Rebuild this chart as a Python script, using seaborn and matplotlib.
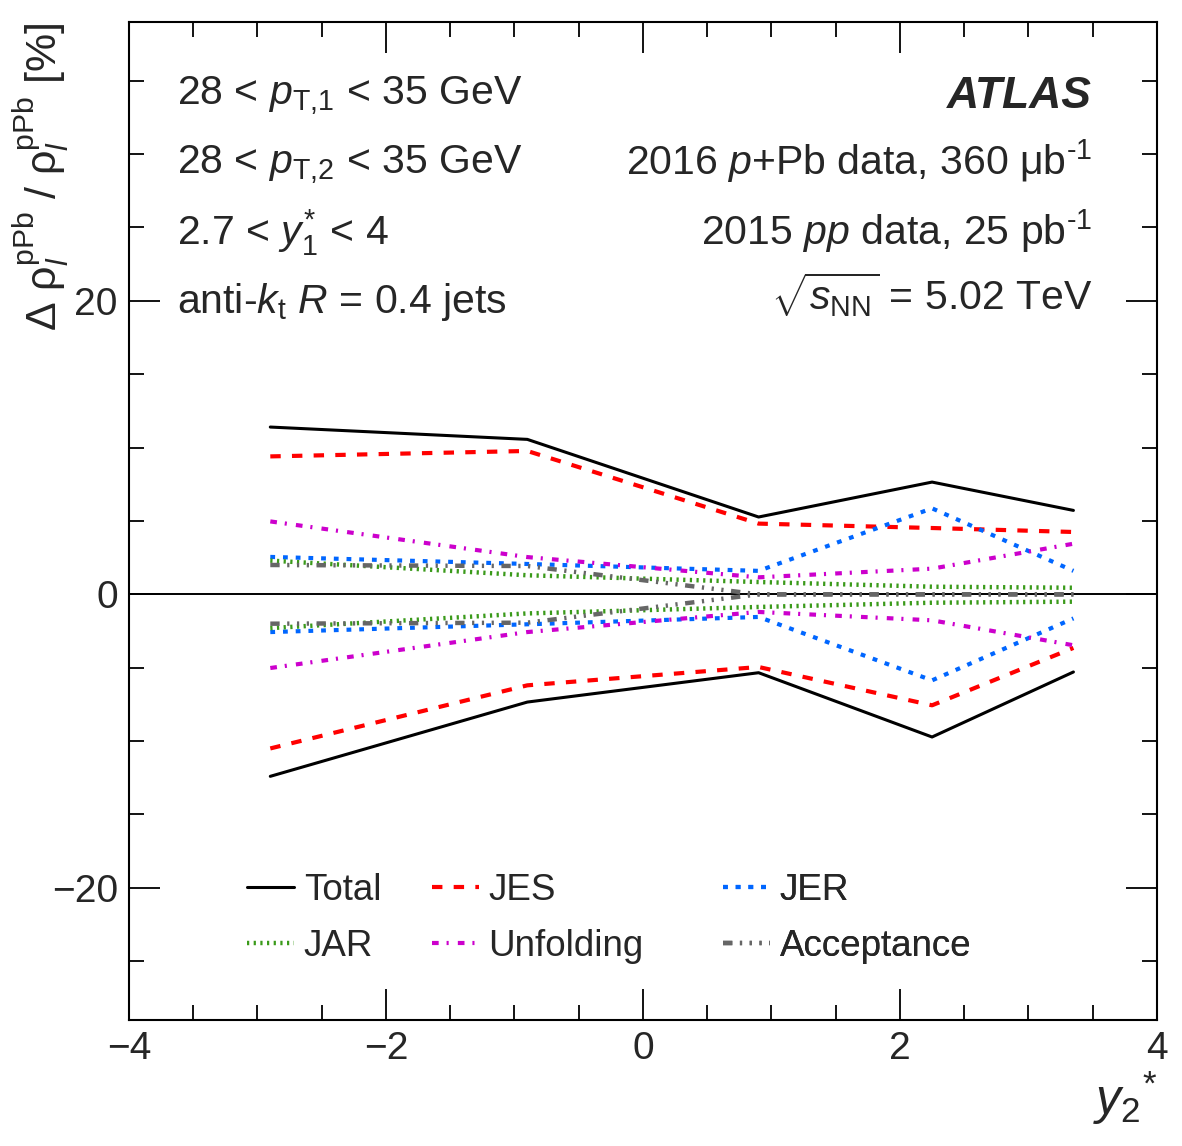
import numpy as np
import pandas as pd
import seaborn as sns
import matplotlib as mpl
import matplotlib.pyplot as plt
from matplotlib.ticker import MultipleLocator

# ---------------- data ----------------
y2_star = [-2.9, -0.9, 0.9, 2.25, 3.35]

total_up = [11.4, 10.56, 5.27, 7.65, 5.72]
total_dn = [-12.4, -7.34, -5.34, -9.72, -5.29]
jes_up = [9.4, 9.77, 4.82, 4.52, 4.25]
jes_dn = [-10.5, -6.2, -4.95, -7.56, -3.65]
jer_up = [2.55, 2.07, 1.6, 5.86, 1.6]
jer_dn = [-2.57, -2.04, -1.54, -5.86, -1.64]
jar_up = [2.3, 1.3, 0.84, 0.52, 0.45]
jar_dn = [-2.3, -1.3, -0.86, -0.57, -0.5]
unf_up = [4.97, 2.54, 1.16, 1.75, 3.45]
unf_dn = [-5.02, -2.57, -1.2, -1.77, -3.47]
acc_up = [2.0, 1.93, 0.0, 0.0, 0.0]
acc_dn = [-2.0, -1.93, 0.0, 0.0, 0.0]

series_names = ["Total", "JES", "JER", "JAR", "Unfolding", "Acceptance"]
series_up = [total_up, jes_up, jer_up, jar_up, unf_up, acc_up]
series_dn = [total_dn, jes_dn, jer_dn, jar_dn, unf_dn, acc_dn]

# ---------------- styles ----------------
colors = {"Total": "#000000", "JES": "#FF0000", "JER": "#0066FF",
          "JAR": "#3A9A1A", "Unfolding": "#CC00CC", "Acceptance": "#666666"}
widths = {"Total": 2.2, "JES": 3.0, "JER": 3.0, "JAR": 3.2,
          "Unfolding": 3.0, "Acceptance": 3.2}
styles = {"Total": "-",
          "JES": (0, (2.5, 2.7)),
          "JER": (0, (1.15, 1.9)),
          "JAR": (0, (0.5, 1.0)),
          "Unfolding": (0, (1.6, 1.9, 0.5, 2.2)),
          "Acceptance": (0, (2.1, 1.7, 0.5, 1.7, 0.5, 1.7, 0.5, 1.7))}

sns.set_theme(style="ticks")
plt.rcParams["font.family"] = ["Liberation Sans", "DejaVu Sans"]
plt.rcParams["mathtext.fontset"] = "custom"
plt.rcParams["mathtext.rm"] = "Liberation Sans"
plt.rcParams["mathtext.it"] = "Liberation Sans:italic"
plt.rcParams["mathtext.bf"] = "Liberation Sans:bold"
plt.rcParams["axes.unicode_minus"] = True

fig = plt.figure(figsize=(11.82, 11.46), dpi=100)
ax = fig.add_axes([0.1091, 0.110, 0.8697, 0.8708])

rows = []
for name, up, dn in zip(series_names, series_up, series_dn):
    for side, vals in (("up", up), ("down", dn)):
        for xv, yv in zip(y2_star, vals):
            rows.append({"y2": xv, "val": yv, "series": name, "side": side})
df = pd.DataFrame(rows)

ax.axhline(0, color="black", lw=1.4, zorder=1)

handles = {}
for name in series_names:
    for side in ("up", "down"):
        sub = df[(df.series == name) & (df.side == side)]
        sns.lineplot(data=sub, x="y2", y="val", ax=ax, color=colors[name],
                     linestyle=styles[name], linewidth=widths[name],
                     estimator=None, sort=False, zorder=3,
                     label=name if side == "up" else None, legend=False)
    handles[name] = ax.get_lines()[-2]

ax.set_xlim(-4, 4)
ax.set_ylim(-29, 39)
ax.xaxis.set_major_locator(MultipleLocator(2))
ax.xaxis.set_minor_locator(MultipleLocator(0.5))
ax.yaxis.set_major_locator(MultipleLocator(20))
ax.yaxis.set_minor_locator(MultipleLocator(5))
ax.tick_params(which="both", direction="in", top=True, right=True,
               width=1.3, labelsize=28, color="black")
ax.tick_params(which="major", length=22)
ax.tick_params(which="minor", length=11)
ax.tick_params(axis="x", pad=8)
ax.tick_params(axis="y", pad=8)
for s in ax.spines.values():
    s.set_linewidth(1.5)
    s.set_color("black")

ax.set_xlabel(r"$y_{2}{}^{*}$", fontsize=36, loc="right", labelpad=2)
ax.set_ylabel(r"Δ ρ$^{\mathrm{pPb}}_{l}$ / ρ$^{\mathrm{pPb}}_{l}$ [%]",
              fontsize=31, loc="top")
ax.yaxis.set_label_coords(-0.056, 1.0)

# annotations (left)
tfs = 29.5
left_x = 0.047
ax.text(left_x, 0.916, r"28 < $p_{\mathrm{T{,}1}}$ < 35 GeV", transform=ax.transAxes,
        fontsize=tfs, va="baseline", ha="left")
ax.text(left_x, 0.847, r"28 < $p_{\mathrm{T{,}2}}$ < 35 GeV", transform=ax.transAxes,
        fontsize=tfs, va="baseline", ha="left")
ax.text(left_x, 0.777, r"2.7 < $y_{1}^{*}$ < 4", transform=ax.transAxes,
        fontsize=tfs, va="baseline", ha="left")
ax.text(left_x, 0.708, r"anti-$k_{\mathrm{t}}$ $R$ = 0.4 jets", transform=ax.transAxes,
        fontsize=tfs, va="baseline", ha="left")

# annotations (right)
right_x = 0.937
ax.text(right_x, 0.914, "ATLAS", transform=ax.transAxes, fontsize=32,
        fontweight="bold", fontstyle="italic", va="baseline", ha="right")
ax.text(right_x, 0.847, r"2016 $p$+Pb data, 360 μb$^{\text{-1}}$", transform=ax.transAxes,
        fontsize=tfs, va="baseline", ha="right")
ax.text(right_x, 0.777, r"2015 $pp$ data, 25 pb$^{\text{-1}}$", transform=ax.transAxes,
        fontsize=tfs, va="baseline", ha="right")
ax.text(right_x, 0.711, r"$\sqrt{s_{\mathrm{NN}}}$ = 5.02 TeV", transform=ax.transAxes,
        fontsize=tfs, va="baseline", ha="right")

# legend: three columns
cols = [["Total", "JAR"], ["JES", "Unfolding"], ["JER", "Acceptance"]]
col_x = [0.1148, 0.2947, 0.5778]
for names, cx in zip(cols, col_x):
    leg = ax.legend([handles[n] for n in names], names, loc="center left",
                    bbox_to_anchor=(cx, 0.1017), bbox_transform=ax.transAxes,
                    frameon=False, fontsize=26.5, handlelength=1.28,
                    handletextpad=0.26, labelspacing=0.58, borderpad=0,
                    borderaxespad=0)
    ax.add_artist(leg)

fig.savefig("out.png", dpi=100)
